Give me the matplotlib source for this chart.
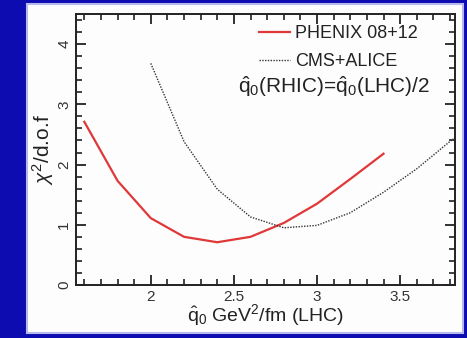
import matplotlib
matplotlib.use("Agg")
import matplotlib.pyplot as plt
from matplotlib.patches import Rectangle
from matplotlib.ticker import MultipleLocator

plt.rcParams['font.family'] = ['Liberation Sans', 'DejaVu Sans']
plt.rcParams['mathtext.fontset'] = 'custom'
plt.rcParams['mathtext.rm'] = 'Liberation Sans'
plt.rcParams['mathtext.it'] = 'Liberation Sans:italic'
plt.rcParams['xtick.direction'] = 'in'
plt.rcParams['ytick.direction'] = 'in'
plt.rcParams['xtick.major.size'] = 7
plt.rcParams['ytick.major.size'] = 7
plt.rcParams['xtick.minor.size'] = 4
plt.rcParams['ytick.minor.size'] = 4
plt.rcParams['xtick.major.width'] = 1.3
plt.rcParams['ytick.major.width'] = 1.3
plt.rcParams['xtick.minor.width'] = 1.2
plt.rcParams['ytick.minor.width'] = 1.2

# chi2/d.o.f vs qhat0 (LHC)
phenix_x = [1.6, 1.8, 2.0, 2.2, 2.4, 2.6, 2.8, 3.0, 3.2, 3.4]
phenix_y = [2.71, 1.73, 1.11, 0.80, 0.71, 0.80, 1.03, 1.35, 1.76, 2.18]

lhc_x = [2.0, 2.2, 2.4, 2.6, 2.8, 3.0, 3.2, 3.4, 3.6, 3.82]
lhc_y = [3.68, 2.38, 1.59, 1.13, 0.95, 0.99, 1.20, 1.54, 1.93, 2.43]

fig = plt.figure(figsize=(4.67, 3.38), dpi=100)
fig.patch.set_facecolor('#0c0cb0')
# white panel behind the plot
fig.patches.append(Rectangle((27 / 467, 1 - 333 / 338), 436 / 467, 329 / 338,
                             transform=fig.transFigure, facecolor='#fdfdfd',
                             edgecolor='#b8b8f0', lw=1.5, zorder=-10))

ax = fig.add_axes([76 / 467, 1 - 285 / 338, 379 / 467, 271 / 338])
ax.set_zorder(5)
ax.set_facecolor('none')

ax.plot(phenix_x, phenix_y, color='#e03838', lw=1.6, label='PHENIX 08+12')
ax.plot(lhc_x, lhc_y, color='#333333', lw=1.0, ls=(0, (1, 1)), label='CMS+ALICE')

ax.set_xlim(1.55, 3.83)
ax.set_ylim(0, 4.5)
ax.set_xticks([2, 2.5, 3, 3.5])
ax.set_xticklabels(['2', '2.5', '3', '3.5'])
ax.set_yticks([0, 1, 2, 3, 4])
ax.set_yticklabels(['0', '1', '2', '3', '4'], rotation=90, va='center')
ax.xaxis.set_minor_locator(MultipleLocator(0.1))
ax.yaxis.set_minor_locator(MultipleLocator(0.2))
ax.tick_params(which='both', direction='in', top=True, right=True,
               bottom=True, left=True, color='#222222')
ax.tick_params(which='major', length=7, labelsize=11, labelcolor='#333333')
ax.tick_params(which='minor', length=4)
for s in ax.spines.values():
    s.set_linewidth(1.4)
    s.set_color('#222222')

ax.set_ylabel(r'$\chi^2$/d.o.f', fontsize=15, labelpad=1, color='#222222')
ax.set_xlabel(r'$\hat{\mathrm{q}}_0$ GeV$^2$/fm (LHC)', fontsize=14, labelpad=-1,
              color='#222222')

leg = ax.legend(loc='upper right', bbox_to_anchor=(0.921, 0.985), frameon=False,
                fontsize=13, handlelength=1.7, handletextpad=0.3,
                borderaxespad=0.0, labelspacing=0.6)
for t in leg.get_texts():
    t.set_color('#222222')
ax.text(0.935, 0.732, r'$\hat{\mathrm{q}}_0$(RHIC)=$\hat{\mathrm{q}}_0$(LHC)/2',
        transform=ax.transAxes, ha='right', va='center', fontsize=15,
        color='#222222')

fig.savefig('out.png', dpi=100, facecolor=fig.get_facecolor())
